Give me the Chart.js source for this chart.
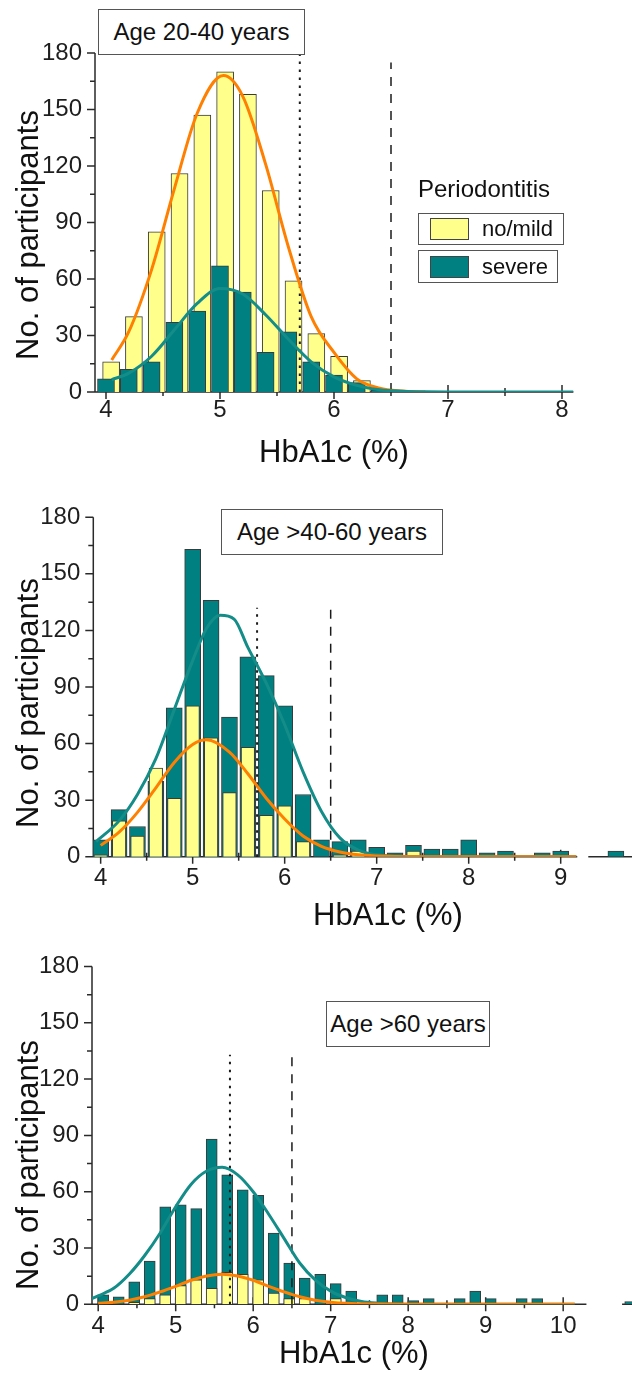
<!DOCTYPE html>
<html lang="en">
<head>
<meta charset="UTF-8">
<title>HbA1c distribution by periodontitis</title>
<script src="https://cdn.jsdelivr.net/npm/chart.js"></script>
<style>
  body {
    margin: 0;
    width: 632px;
    height: 1378px;
    overflow: hidden;
    position: relative;
    background: #fff;
    font-family: 'Liberation Sans', Arial, sans-serif;
    color: #111;
  }
  canvas { position: absolute; left: 0; }
  .lbl { position: absolute; white-space: nowrap; line-height: 1; }
  .xtitle { font-size: 31px; transform: translateX(-50%); }
  .ytitle { font-size: 31px; transform: translate(-50%, -50%) rotate(-90deg); }
  .agebox {
    position: absolute;
    box-sizing: border-box;
    border: 1px solid #555;
    background: #fff;
    font-size: 24px;
    display: flex;
    align-items: center;
    justify-content: center;
    white-space: nowrap;
  }
  .key {
    position: absolute;
    box-sizing: border-box;
    border: 1px solid #555;
    display: flex;
    align-items: center;
    padding-left: 11px;
    font-size: 22px;
  }
  .sw {
    display: inline-block;
    width: 39px;
    height: 22px;
    box-sizing: border-box;
    border: 1px solid #444;
    margin-right: 13px;
  }
</style>
</head>
<body>

<canvas id="p1" width="640" height="480" style="top:0px"></canvas>
<canvas id="p2" width="640" height="440" style="top:480px"></canvas>
<canvas id="p3" width="640" height="458" style="top:920px"></canvas>

<!-- panel 1 labels -->
<div class="agebox" style="left:98px; top:9px; width:207px; height:46px">Age 20-40 years</div>
<div class="lbl ytitle" style="left:27px; top:235px">No. of participants</div>
<div class="lbl xtitle" style="left:334px; top:436px">HbA1c (%)</div>
<div class="lbl" style="left:418px; top:177px; font-size:24px">Periodontitis</div>
<div class="key" style="left:418px; top:213px; width:146px; height:32px"><span class="sw" id="swMild"></span>no/mild</div>
<div class="key" style="left:418px; top:250px; width:140px; height:33px"><span class="sw" id="swSevere"></span>severe</div>

<!-- panel 2 labels -->
<div class="agebox" style="left:221px; top:509px; width:222px; height:46px">Age &gt;40-60 years</div>
<div class="lbl ytitle" style="left:27px; top:703px">No. of participants</div>
<div class="lbl xtitle" style="left:388px; top:899px">HbA1c (%)</div>

<!-- panel 3 labels -->
<div class="agebox" style="left:326px; top:1001px; width:164px; height:46px">Age &gt;60 years</div>
<div class="lbl ytitle" style="left:27px; top:1165px">No. of participants</div>
<div class="lbl xtitle" style="left:354px; top:1337px">HbA1c (%)</div>

<script>
  // ---- data ----
  const yTicks = [0, 30, 60, 90, 120, 150, 180];
  const p1XTicks = [4, 5, 6, 7, 8];
  const p2XTicks = [4, 5, 6, 7, 8, 9];
  const p3XTicks = [4, 5, 6, 7, 8, 9, 10];

  // Age 20-40
  const p1Bins   = [4.0, 4.2, 4.4, 4.6, 4.8, 5.0, 5.2, 5.4, 5.6, 5.8, 6.0, 6.2, 6.4];
  const p1Mild   = [16, 40, 85, 116, 147, 170, 158, 107, 59, 31, 19, 6, 1];
  const p1Severe = [7, 12, 16, 37, 43, 67, 53, 21, 32, 16, 9, 5, 1];
  const p1MildFitX   = [4.05, 4.2, 4.4, 4.6, 4.8, 5.03, 5.2, 5.4, 5.6, 5.8, 6.0, 6.2, 6.4, 6.6, 6.8];
  const p1MildFitY   = [17, 32, 65, 108, 148, 168, 157, 121, 77, 40, 21, 7, 2, 0.5, 0];
  const p1SevereFitX = [4.05, 4.2, 4.4, 4.6, 4.8, 5.0, 5.2, 5.4, 5.6, 5.8, 6.0, 6.2, 6.4, 6.6, 6.8, 7.0, 8.1];
  const p1SevereFitY = [6.5, 10, 19, 33, 47, 55, 52, 41, 28, 16, 8, 3.5, 1.2, 0.4, 0.1, 0, 0];

  // Age >40-60
  const p2Bins   = [4.0, 4.2, 4.4, 4.6, 4.8, 5.0, 5.2, 5.4, 5.6, 5.8, 6.0, 6.2, 6.4, 6.6,
                    6.8, 7.0, 7.2, 7.4, 7.6, 7.8, 8.0, 8.2, 8.4, 8.6, 8.8, 9.0, 9.6];
  const p2Mild   = [1, 19, 11, 47, 31, 80, 63, 34, 58, 22, 27, 8, 0, 1,
                    3, 0, 0, 3, 0, 0, 0, 0, 0, 0, 0, 0, 0];
  const p2Severe = [9, 25, 16, 40, 79, 163, 136, 74, 106, 96, 80, 33, 9, 8,
                    9, 5, 2, 6, 4, 4, 9, 2, 3, 0, 2, 3, 3];
  const p2MildFitX   = [4.0, 4.2, 4.4, 4.6, 4.8, 5.0, 5.15, 5.4, 5.6, 5.8, 6.0, 6.2, 6.4, 6.6, 6.8, 7.0, 7.4, 9.17];
  const p2MildFitY   = [6, 13, 23.5, 36.5, 50, 59.5, 62, 55.5, 44, 31, 20, 11, 5.5, 2.5, 1, 0.4, 0, 0];
  const p2SevereFitX = [3.95, 4.2, 4.4, 4.6, 4.8, 5.0, 5.15, 5.3, 5.45, 5.6, 5.8, 6.0, 6.2, 6.4, 6.6, 6.8, 7.0, 7.2, 7.5, 9.17];
  const p2SevereFitY = [8, 19, 33, 52, 78, 104, 121, 128, 126, 111, 92, 70, 45, 24, 10, 3.5, 1, 0.3, 0, 0];

  // Age >60
  const p3Bins   = [4.0, 4.2, 4.4, 4.6, 4.8, 5.0, 5.2, 5.4, 5.6, 5.8, 6.0, 6.2, 6.4, 6.6, 6.8,
                    7.0, 7.2, 7.4, 7.6, 7.8, 8.0, 8.2, 8.4, 8.6, 8.8, 9.0, 9.2, 9.4, 9.6, 10.8];
  const p3Mild   = [0, 0, 1, 3, 5, 10, 13, 8.5, 17, 16, 13, 6, 3, 3, 0,
                    3, 0, 0, 0, 0, 0, 0, 0, 0, 0, 0, 0, 0, 0, 0];
  const p3Severe = [5, 4, 12, 23, 52, 53, 51, 88, 69, 61, 58, 38, 22, 14, 16,
                    11, 7, 1, 5, 5, 2, 3, 0, 3, 7, 3, 0, 3, 3, 1.5];
  const p3MildFitX   = [4.0, 4.2, 4.4, 4.6, 4.8, 5.0, 5.2, 5.4, 5.6, 5.8, 6.0, 6.2, 6.4, 6.6, 6.8, 7.0, 7.2, 7.6, 8.0, 10.15];
  const p3MildFitY   = [0.5, 1.1, 2.2, 4, 6.6, 9.6, 12.8, 15.1, 16, 15.1, 12.8, 9.6, 6.6, 4, 2.2, 1.1, 0.5, 0.1, 0, 0];
  const p3SevereFitX = [3.92, 4.0, 4.2, 4.4, 4.6, 4.8, 5.0, 5.2, 5.4, 5.6, 5.8, 6.0, 6.2, 6.4, 6.6, 6.8, 7.0, 7.2, 7.4, 7.6, 7.8, 8.2, 10.15];
  const p3SevereFitY = [3, 4.5, 8.5, 16, 26, 38, 52, 64, 71, 73, 69, 60, 48, 35, 22, 13, 7, 3.5, 1.5, 0.6, 0.2, 0, 0];

  // HbA1c cut-offs: 5.7 (dotted) and 6.5 (dashed)
  const cutOffs = [5.7, 6.5];

  // ---- styles ----
  const MILD_FILL = '#ffff8c';
  const SEVERE_FILL = '#008080';
  const MILD_LINE = '#ff7f00';
  const SEVERE_LINE = '#148d89';
  const EDGE = '#3a3a3a';
  const AXIS = '#2a2a2a';
  const X_AXIS_H = 40;

  document.getElementById('swMild').style.background = MILD_FILL;
  document.getElementById('swSevere').style.background = SEVERE_FILL;

  Chart.defaults.font.family = "'Liberation Sans', Arial, sans-serif";
  Chart.defaults.font.size = 24;
  Chart.defaults.color = '#1e1e1e';
  Chart.defaults.animation = false;

  // axis lines and tick marks, drawn under the bars
  const axesPlugin = {
    id: 'axes',
    beforeDatasetsDraw(chart, args, opts) {
      const { ctx, chartArea: a, scales: { x, y } } = chart;
      ctx.save();
      ctx.strokeStyle = AXIS;
      ctx.lineWidth = 1.5;
      ctx.beginPath();
      ctx.moveTo(a.left, y.getPixelForValue(180));
      ctx.lineTo(a.left, y.getPixelForValue(0));
      for (let v = 0; v <= 180; v += 15) {
        const py = y.getPixelForValue(v);
        ctx.moveTo(a.left - (v % 30 === 0 ? 8 : 5), py);
        ctx.lineTo(a.left, py);
      }
      const y0 = y.getPixelForValue(0);
      opts.segments.forEach(([s, e]) => {
        ctx.moveTo(x.getPixelForValue(s), y0);
        ctx.lineTo(x.getPixelForValue(e), y0);
      });
      const [s0, e0] = opts.segments[0];
      opts.ticks.forEach(t => {
        [t, t + 0.5].forEach((v, i) => {
          if (v < s0 || v > e0) return;
          const px = x.getPixelForValue(v);
          const h = i === 0 ? 7 : 4;
          ctx.moveTo(px, y0 - h);
          ctx.lineTo(px, y0 + h);
        });
      });
      ctx.stroke();
      ctx.restore();
    }
  };

  function barSet(xs, ys, shift, fill, width, order) {
    return {
      type: 'bar',
      data: xs.map((x, i) => ({ x: x + shift, y: ys[i] })).filter(p => p.y > 0),
      backgroundColor: fill,
      borderColor: EDGE,
      borderWidth: 1,
      barThickness: width,
      grouped: false,
      order
    };
  }

  function fitSet(xs, ys, color, order) {
    return {
      type: 'line',
      data: xs.map((x, i) => ({ x, y: ys[i] })),
      borderColor: color,
      borderWidth: 3,
      pointRadius: 0,
      cubicInterpolationMode: 'monotone',
      fill: false,
      order
    };
  }

  function cutSet(x, top, dash, width) {
    return {
      type: 'line',
      data: [{ x, y: 0 }, { x, y: top }],
      borderColor: '#1a1a1a',
      borderWidth: width,
      borderDash: dash,
      pointRadius: 0,
      fill: false,
      order: 4
    };
  }

  const panels = [
    {
      id: 'p1', top: 0,
      area: { left: 95, right: 573.4, top: 53, bottom: 392 },
      xMin: 3.9035, xMax: 8.1, xTicks: p1XTicks, segments: [[3.9035, 8.1]], tickPad: 4,
      datasets: [
        barSet(p1Bins, p1Mild, 0.045, MILD_FILL, 17, 6),
        barSet(p1Bins, p1Severe, 0, SEVERE_FILL, 17, 5),
        fitSet(p1MildFitX, p1MildFitY, MILD_LINE, 2),
        fitSet(p1SevereFitX, p1SevereFitY, SEVERE_LINE, 1)
      ],
      cutTops: [179, 175]
    },
    {
      id: 'p2', top: 480,
      area: { left: 93.3, right: 634.3, top: 517.3, bottom: 856.7 },
      xMin: 3.92, xMax: 9.8, xTicks: p2XTicks, segments: [[3.92, 9.18], [9.3, 9.8]], tickPad: 7,
      datasets: [
        barSet(p2Bins, p2Severe, 0, SEVERE_FILL, 16, 6),
        barSet(p2Bins, p2Mild, 0, MILD_FILL, 13.5, 5),
        fitSet(p2SevereFitX, p2SevereFitY, SEVERE_LINE, 2),
        fitSet(p2MildFitX, p2MildFitY, MILD_LINE, 1)
      ],
      cutTops: [132, 134.5]
    },
    {
      id: 'p3', top: 920,
      area: { left: 92, right: 636.8, top: 966.5, bottom: 1304.3 },
      xMin: 3.92, xMax: 10.95, xTicks: p3XTicks, segments: [[3.92, 10.3], [10.76, 10.95]], tickPad: 8,
      datasets: [
        barSet(p3Bins, p3Severe, 0.065, SEVERE_FILL, 11, 6),
        barSet(p3Bins, p3Mild, 0.065, MILD_FILL, 11, 5),
        fitSet(p3SevereFitX, p3SevereFitY, SEVERE_LINE, 2),
        fitSet(p3MildFitX, p3MildFitY, MILD_LINE, 1)
      ],
      cutTops: [133, 134.6]
    }
  ];

  panels.forEach(p => {
    const canvas = document.getElementById(p.id);
    const W = canvas.width, H = canvas.height;
    const datasets = p.datasets.concat([
      cutSet(cutOffs[0], p.cutTops[0], [2.5, 5.5], 2),
      cutSet(cutOffs[1], p.cutTops[1], [9, 8], 1.5)
    ]);

    new Chart(canvas, {
      type: 'bar',
      data: { datasets },
      options: {
        responsive: false,
        layout: {
          padding: {
            left: 0,
            right: W - p.area.right,
            top: p.area.top - p.top,
            bottom: H - (p.area.bottom - p.top) - X_AXIS_H
          }
        },
        plugins: {
          legend: { display: false },
          tooltip: { enabled: false },
          axes: { segments: p.segments, ticks: p.xTicks }
        },
        scales: {
          x: {
            type: 'linear',
            min: p.xMin,
            max: p.xMax,
            offset: false,
            grid: { display: false, drawTicks: false },
            border: { display: false },
            ticks: { padding: p.tickPad, maxRotation: 0, autoSkip: false, callback: v => String(v) },
            afterBuildTicks: s => { s.ticks = p.xTicks.map(v => ({ value: v })); },
            afterFit: s => { s.height = X_AXIS_H; }
          },
          y: {
            min: 0,
            max: 180,
            grid: { display: false, drawTicks: false },
            border: { display: false },
            ticks: { padding: 13, callback: v => String(v) },
            afterBuildTicks: s => { s.ticks = yTicks.map(v => ({ value: v })); },
            afterFit: s => { s.width = p.area.left; }
          }
        }
      },
      plugins: [axesPlugin]
    });
  });
</script>
</body>
</html>
